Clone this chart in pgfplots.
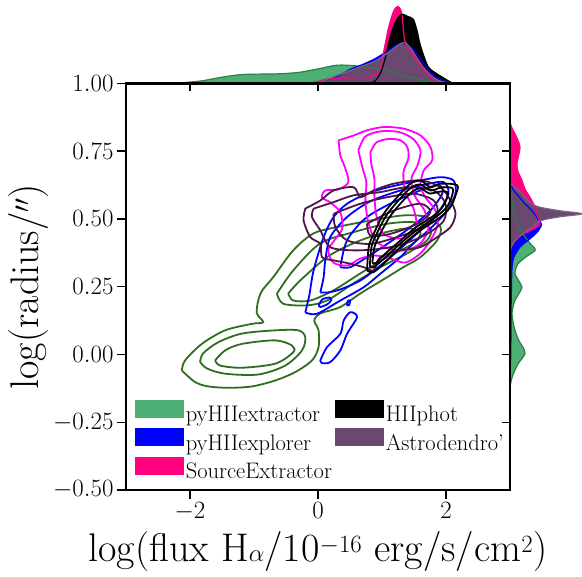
\documentclass[border=0pt]{standalone}
\usepackage{pgfplots}
\pgfplotsset{compat=1.18}
\definecolor{cgreenf}{RGB}{77,175,115}
\definecolor{cgreenm}{RGB}{40,130,70}
\definecolor{cgreenl}{RGB}{46,110,30}
\definecolor{cpink}{RGB}{255,0,127}
\definecolor{cmag}{RGB}{255,0,255}
\definecolor{cpurf}{RGB}{106,72,112}
\definecolor{cpurm}{RGB}{125,100,130}
\definecolor{cpurl}{RGB}{80,20,75}
\begin{document}
\begin{tikzpicture}
\useasboundingbox (0pt,0pt) rectangle (582pt,577pt);
% ---------------- top marginal ----------------
\begin{axis}[at={(126pt,493.6pt)}, anchor=south west, scale only axis,
  width=384pt, height=83.4pt, xmin=-3, xmax=3, ymin=0, ymax=83.4,
  axis lines=none, clip=false]
\addplot[fill=cgreenf, draw=none, smooth] coordinates {(-2.4,0) (-2.1,0.8) (-1.8,2.7) (-1.5,6.2) (-1.2,8.8) (-0.9,9.3) (-0.6,9.6) (-0.3,11) (0,14.5) (0.3,18.2) (0.6,17.5) (0.9,15) (1.1,12.5) (1.3,8.5) (1.6,3.5) (1.9,1) (2.3,0)};
\addplot[fill=blue, draw=none, smooth] coordinates {(-0.2,0) (0.0,1.5) (0.3,7) (0.5,14) (0.7,19) (0.9,25) (1.1,33) (1.25,39) (1.35,40) (1.5,33) (1.65,20) (1.8,8) (2.0,2) (2.2,0)};
\addplot[fill=cpink, draw=none, smooth] coordinates {(-0.1,0) (0.05,3) (0.2,5) (0.5,5.5) (0.8,6.5) (0.95,12) (1.02,30) (1.1,55) (1.18,72) (1.25,77) (1.31,70) (1.34,50) (1.37,40) (1.49,28) (1.6,17) (1.71,9) (1.87,2.7) (2.05,0)};
\addplot[fill=black, draw=none, smooth] coordinates {(0.82,0) (0.9,3) (0.98,11) (1.05,25) (1.12,45) (1.2,60) (1.3,69) (1.4,67) (1.49,64) (1.55,52) (1.6,38) (1.71,18) (1.8,12) (1.87,9) (2.0,4) (2.1,0)};
\addplot[fill=cpurf, draw=none, smooth] coordinates {(-0.1,0) (0.1,3) (0.3,8) (0.55,14) (0.9,22.5) (1.1,31) (1.25,38) (1.35,41) (1.45,35) (1.55,25) (1.65,16) (1.8,6) (1.95,1.5) (2.1,0)};
\addplot[draw=cgreenm, line width=1.2pt, smooth] coordinates {(-2.4,0) (-2.1,0.8) (-1.8,2.7) (-1.5,6.2) (-1.2,8.8) (-0.9,9.3) (-0.6,9.6) (-0.3,11) (0,14.5) (0.3,18.2) (0.6,17.5) (0.9,15) (1.1,12.5) (1.3,8.5) (1.6,3.5) (1.9,1) (2.3,0)};
\addplot[draw=blue, line width=1.2pt, smooth] coordinates {(-0.2,0) (0.0,1.5) (0.3,7) (0.5,14) (0.7,19) (0.9,25) (1.1,33) (1.25,39) (1.35,40) (1.5,33) (1.65,20) (1.8,8) (2.0,2) (2.2,0)};
\addplot[draw=cpink, line width=1.2pt, smooth] coordinates {(-0.1,0) (0.05,3) (0.2,5) (0.5,5.5) (0.8,6.5) (0.95,12) (1.02,30) (1.1,55) (1.18,72) (1.25,77) (1.31,70) (1.34,50) (1.37,40) (1.49,28) (1.6,17) (1.71,9) (1.87,2.7) (2.05,0)};
\addplot[draw=black, line width=1.2pt, smooth] coordinates {(0.82,0) (0.9,3) (0.98,11) (1.05,25) (1.12,45) (1.2,60) (1.3,69) (1.4,67) (1.49,64) (1.55,52) (1.6,38) (1.71,18) (1.8,12) (1.87,9) (2.0,4) (2.1,0)};
\addplot[draw=cpurm, line width=1.2pt, smooth] coordinates {(-0.1,0) (0.1,3) (0.3,8) (0.55,14) (0.9,22.5) (1.1,31) (1.25,38) (1.35,41) (1.45,35) (1.55,25) (1.65,16) (1.8,6) (1.95,1.5) (2.1,0)};
\end{axis}
% ---------------- right marginal ----------------
\begin{axis}[at={(510pt,87pt)}, anchor=south west, scale only axis,
  width=72pt, height=406.6pt, xmin=0, xmax=72, ymin=-0.5, ymax=1,
  axis lines=none, clip=false]
\addplot[fill=cgreenf, draw=none, smooth] coordinates {(0,-0.12) (1,-0.1) (3,-0.075) (8,-0.035) (13,-0.01) (15,0.005) (13,0.027) (9,0.05) (5,0.089) (3,0.12) (2,0.15) (3,0.175) (5,0.2) (9,0.225) (12,0.248) (9,0.27) (5,0.298) (6,0.32) (8,0.335) (16,0.36) (24,0.38) (25,0.39) (20,0.41) (14,0.44) (9,0.47) (5,0.51) (2,0.56) (0,0.62)};
\addplot[fill=blue, draw=none, smooth] coordinates {(0,-0.05) (0.8,0.0) (1,0.15) (1.5,0.25) (2,0.32) (4,0.36) (10,0.396) (16,0.415) (22,0.433) (28,0.455) (31.5,0.48) (28,0.5) (22,0.53) (14,0.56) (7,0.59) (3,0.61) (0,0.64)};
\addplot[fill=cpink, draw=none, smooth] coordinates {(0,0.38) (3,0.408) (8,0.433) (18,0.452) (27,0.47) (30,0.482) (28,0.507) (25,0.544) (20,0.58) (15,0.61) (12,0.642) (8,0.675) (7,0.704) (9,0.74) (10,0.765) (8,0.79) (5,0.814) (2,0.835) (0,0.855)};
\addplot[fill=black, draw=none, smooth] coordinates {(0,0.41) (4,0.44) (10,0.47) (16,0.5) (18,0.515) (14,0.54) (8,0.57) (3,0.6) (0,0.62)};
\addplot[fill=cpurf, draw=none, smooth] coordinates {(0,0.39) (3,0.41) (8,0.43) (13,0.446) (18,0.46) (23,0.47) (28,0.487) (34,0.497) (50,0.508) (72,0.519) (50,0.53) (30,0.543) (22,0.555) (17,0.57) (15,0.58) (10,0.6) (5,0.615) (2,0.625) (0,0.635)};
\addplot[draw=cgreenm, line width=1.2pt, smooth] coordinates {(0,-0.12) (1,-0.1) (3,-0.075) (8,-0.035) (13,-0.01) (15,0.005) (13,0.027) (9,0.05) (5,0.089) (3,0.12) (2,0.15) (3,0.175) (5,0.2) (9,0.225) (12,0.248) (9,0.27) (5,0.298) (6,0.32) (8,0.335) (16,0.36) (24,0.38) (25,0.39) (20,0.41) (14,0.44) (9,0.47) (5,0.51) (2,0.56) (0,0.62)};
\addplot[draw=blue, line width=1.2pt, smooth] coordinates {(0,-0.05) (0.8,0.0) (1,0.15) (1.5,0.25) (2,0.32) (4,0.36) (10,0.396) (16,0.415) (22,0.433) (28,0.455) (31.5,0.48) (28,0.5) (22,0.53) (14,0.56) (7,0.59) (3,0.61) (0,0.64)};
\addplot[draw=cpink, line width=1.2pt, smooth] coordinates {(0,0.38) (3,0.408) (8,0.433) (18,0.452) (27,0.47) (30,0.482) (28,0.507) (25,0.544) (20,0.58) (15,0.61) (12,0.642) (8,0.675) (7,0.704) (9,0.74) (10,0.765) (8,0.79) (5,0.814) (2,0.835) (0,0.855)};
\addplot[draw=cpurm, line width=1.2pt, smooth] coordinates {(0,0.39) (3,0.41) (8,0.43) (13,0.446) (18,0.46) (23,0.47) (28,0.487) (34,0.497) (50,0.508) (72,0.519) (50,0.53) (30,0.543) (22,0.555) (17,0.57) (15,0.58) (10,0.6) (5,0.615) (2,0.625) (0,0.635)};
\end{axis}
% ---------------- main joint axis ----------------
\begin{axis}[at={(126pt,87pt)}, anchor=south west, scale only axis,
  width=384pt, height=406.6pt, xmin=-3, xmax=3, ymin=-0.5, ymax=1,
  xtick={-2,0,2}, ytick={-0.5,-0.25,0,0.25,0.5,0.75,1},
  tick align=outside, xtick pos=left, ytick pos=left,
  major tick length=9pt, tick style={line width=1.4pt, black},
  axis line style={line width=2.4pt},
  yticklabel style={/pgf/number format/fixed, /pgf/number format/fixed zerofill, /pgf/number format/precision=2},
  tick label style={font=\fontsize{24.5}{28}\selectfont},
  label style={font=\fontsize{40}{46}\selectfont},
  xlabel={log(flux H$\alpha$/10$^{-16}$ erg/s/cm$^2$)},
  ylabel={log(radius/$''$)},
  xlabel style={at={(axis description cs:0.5,0)}, anchor=base, yshift=-72pt},
  ylabel style={at={(axis description cs:-0.228,0.5)}, anchor=base},
  legend style={at={(0.015,0.227)}, anchor=north west, draw=none, fill=none,
    font=\fontsize{22.5}{26}\selectfont, row sep=3pt},
  legend columns=2, legend cell align=left,
  /tikz/every even column/.append style={column sep=1pt},
  every axis plot/.append style={line width=1.8pt, smooth}]
% green contours
\addplot[cgreenl, forget plot] coordinates {(-2.128,-0.059) (-2.077,-0.022) (-1.815,0.039) (-1.451,0.089) (-1.033,0.113) (-0.856,0.119) (-0.955,0.151) (-0.934,0.199) (-0.872,0.236) (-0.700,0.285) (-0.387,0.384) (-0.074,0.446) (0.297,0.470) (0.818,0.494) (1.335,0.513) (1.706,0.507) (1.914,0.470) (1.862,0.421) (1.601,0.359) (1.335,0.322) (1.080,0.285) (0.662,0.225) (0.349,0.175) (0.036,0.151) (-0.058,0.125) (0.009,0.089) (0.009,0.027) (-0.094,-0.022) (-0.355,-0.065) (-0.668,-0.096) (-1.033,-0.118) (-1.399,-0.123) (-1.712,-0.118) (-1.920,-0.102) (-2.128,-0.059)};
\addplot[cgreenl, forget plot] coordinates {(-1.842,-0.028) (-1.795,0.004) (-1.560,0.045) (-1.189,0.077) (-0.668,0.089) (-0.308,0.089) (-0.199,0.064) (-0.250,0.015) (-0.512,-0.041) (-0.934,-0.074) (-1.451,-0.071) (-1.732,-0.052) (-1.842,-0.028)};
\addplot[cgreenl, forget plot] coordinates {(-1.607,-0.022) (-1.451,0.015) (-1.189,0.039) (-0.668,0.052) (-0.407,0.033) (-0.387,0.008) (-0.668,-0.034) (-1.189,-0.049) (-1.529,-0.041) (-1.607,-0.022)};
\addplot[cgreenl, forget plot] coordinates {(-0.642,0.224) (-0.387,0.310) (0.036,0.410) (0.552,0.451) (1.080,0.482) (1.491,0.488) (1.757,0.465) (1.706,0.421) (1.393,0.373) (0.975,0.322) (0.552,0.262) (0.141,0.199) (-0.172,0.181) (-0.543,0.187) (-0.642,0.224)};
\addplot[cgreenl, forget plot] coordinates {(-0.465,0.225) (-0.277,0.273) (0.141,0.359) (0.552,0.410) (0.975,0.446) (1.393,0.465) (1.601,0.451) (1.491,0.410) (1.080,0.359) (0.662,0.299) (0.239,0.236) (-0.121,0.199) (-0.387,0.199) (-0.465,0.225)};
% blue contours
\addplot[blue, forget plot] coordinates {(-0.199,0.155) (-0.136,0.218) (-0.069,0.310) (0.088,0.433) (0.244,0.507) (0.454,0.556) (0.767,0.593) (1.080,0.616) (1.601,0.642) (1.914,0.654) (2.117,0.642) (2.149,0.594) (2.019,0.531) (1.757,0.465) (1.491,0.410) (1.288,0.359) (0.975,0.298) (0.714,0.248) (0.349,0.199) (-0.016,0.150) (-0.199,0.155)};
\addplot[blue, forget plot] coordinates {(0.036,-0.022) (0.141,0.027) (0.349,0.076) (0.401,0.125) (0.505,0.156) (0.610,0.138) (0.454,0.076) (0.349,0.015) (0.192,-0.028) (0.063,-0.032) (0.036,-0.022)};
\addplot[blue, forget plot] coordinates {(0.013,0.181) (0.067,0.203) (0.177,0.210) (0.208,0.201) (0.146,0.185) (0.036,0.175) (0.013,0.181)};
\addplot[blue, forget plot] coordinates {(0.451,0.181) (0.466,0.197) (0.498,0.199) (0.490,0.183) (0.451,0.181)};
\addplot[blue, forget plot] coordinates {(0.036,0.229) (0.088,0.285) (0.114,0.347) (0.192,0.433) (0.454,0.507) (0.818,0.565) (1.288,0.605) (1.679,0.627) (1.961,0.636) (2.039,0.593) (1.862,0.519) (1.601,0.458) (1.288,0.391) (0.975,0.328) (0.662,0.273) (0.349,0.240) (0.161,0.229) (0.036,0.229)};
\addplot[blue, forget plot] coordinates {(0.349,0.322) (0.454,0.421) (0.767,0.507) (1.340,0.580) (1.862,0.624) (1.941,0.593) (1.706,0.519) (1.236,0.433) (0.767,0.359) (0.505,0.322) (0.349,0.322)};
% magenta contours
\addplot[cmag, forget plot] coordinates {(0.322,0.790) (0.557,0.808) (0.767,0.827) (1.027,0.839) (1.340,0.833) (1.601,0.808) (1.757,0.765) (1.784,0.716) (1.653,0.679) (1.601,0.624) (1.679,0.579) (1.836,0.531) (1.867,0.476) (1.757,0.421) (1.601,0.373) (1.366,0.339) (1.131,0.354) (0.897,0.365) (0.662,0.354) (0.459,0.328) (0.239,0.339) (0.161,0.384) (0.255,0.421) (0.380,0.465) (0.349,0.524) (0.192,0.561) (0.063,0.579) (0.114,0.605) (0.318,0.609) (0.474,0.635) (0.427,0.686) (0.349,0.734) (0.322,0.790)};
\addplot[cmag, forget plot] coordinates {(0.631,0.753) (0.740,0.804) (0.975,0.823) (1.257,0.821) (1.476,0.797) (1.601,0.753) (1.554,0.697) (1.460,0.649) (1.507,0.587) (1.664,0.531) (1.726,0.465) (1.601,0.410) (1.366,0.384) (1.100,0.391) (0.897,0.421) (0.787,0.487) (0.740,0.568) (0.756,0.635) (0.693,0.690) (0.631,0.753)};
\addplot[cmag, forget plot] coordinates {(0.818,0.745) (0.912,0.782) (1.100,0.795) (1.288,0.790) (1.397,0.764) (1.413,0.723) (1.335,0.672) (1.366,0.598) (1.491,0.539) (1.538,0.476) (1.413,0.435) (1.210,0.428) (1.006,0.450) (0.912,0.513) (0.881,0.587) (0.881,0.649) (0.834,0.701) (0.818,0.745)};
% purple contours
\addplot[cpurl, forget plot] coordinates {(-0.199,0.538) (0.036,0.568) (0.244,0.605) (0.557,0.617) (0.662,0.580) (0.870,0.605) (1.183,0.630) (1.601,0.642) (1.914,0.617) (2.070,0.568) (2.149,0.519) (2.070,0.470) (1.862,0.433) (1.601,0.396) (1.288,0.384) (0.975,0.359) (0.870,0.310) (0.714,0.322) (0.505,0.335) (0.244,0.347) (0.063,0.359) (0.036,0.408) (-0.121,0.433) (-0.225,0.494) (-0.199,0.538)};
\addplot[cpurl, forget plot] coordinates {(-0.069,0.538) (0.244,0.562) (0.557,0.587) (0.975,0.599) (1.393,0.617) (1.809,0.605) (1.992,0.556) (1.966,0.494) (1.706,0.445) (1.340,0.408) (0.975,0.390) (0.557,0.384) (0.192,0.396) (0.036,0.458) (-0.094,0.507) (-0.069,0.538)};
\addplot[cpurl, forget plot] coordinates {(0.244,0.519) (0.662,0.556) (1.080,0.580) (1.496,0.593) (1.809,0.568) (1.862,0.519) (1.653,0.470) (1.236,0.433) (0.818,0.408) (0.454,0.421) (0.271,0.470) (0.244,0.519)};
\addplot[cpurl, forget plot] coordinates {(0.767,0.482) (1.183,0.531) (1.601,0.556) (1.757,0.525) (1.549,0.482) (1.131,0.445) (0.818,0.439) (0.767,0.482)};
% black contours
\addplot[black, forget plot] coordinates {(0.767,0.310) (0.792,0.396) (0.870,0.445) (1.027,0.519) (1.236,0.580) (1.444,0.630) (1.601,0.642) (1.757,0.617) (1.914,0.630) (2.175,0.624) (2.149,0.587) (2.070,0.544) (1.914,0.507) (1.601,0.458) (1.340,0.408) (1.080,0.347) (0.870,0.304) (0.767,0.310)};
\addplot[black, forget plot] coordinates {(0.811,0.325) (0.834,0.395) (0.912,0.443) (1.069,0.513) (1.272,0.572) (1.460,0.616) (1.601,0.627) (1.757,0.605) (1.930,0.616) (2.102,0.613) (2.086,0.579) (2.008,0.542) (1.851,0.509) (1.554,0.461) (1.304,0.413) (1.053,0.358) (0.865,0.321) (0.811,0.325)};
\addplot[black, forget plot] coordinates {(0.850,0.339) (0.881,0.395) (0.959,0.439) (1.116,0.506) (1.304,0.561) (1.476,0.601) (1.601,0.613) (1.742,0.594) (1.914,0.601) (2.023,0.598) (2.008,0.572) (1.930,0.539) (1.789,0.509) (1.507,0.465) (1.272,0.417) (1.038,0.369) (0.897,0.336) (0.850,0.339)};
% legend
\addlegendimage{legend image code/.code={\fill[cgreenf] (0pt,-2pt) rectangle (47pt,14pt);}}
\addlegendentry{pyHIIextractor}
\addlegendimage{legend image code/.code={\fill[black] (0pt,-2pt) rectangle (47pt,14pt);}}
\addlegendentry{HIIphot}
\addlegendimage{legend image code/.code={\fill[blue] (0pt,-2pt) rectangle (47pt,14pt);}}
\addlegendentry{pyHIIexplorer}
\addlegendimage{legend image code/.code={\fill[cpurf] (0pt,-2pt) rectangle (47pt,14pt);}}
\addlegendentry{Astrodendro'}
\addlegendimage{legend image code/.code={\fill[cpink] (0pt,-2pt) rectangle (47pt,14pt);}}
\addlegendentry{SourceExtractor}
\end{axis}
% overlay: inward ticks on top and right
\begin{axis}[at={(126pt,87pt)}, anchor=south west, scale only axis,
  width=384pt, height=406.6pt, xmin=-3, xmax=3, ymin=-0.5, ymax=1,
  xtick={-2,0,2}, ytick={-0.5,-0.25,0,0.25,0.5,0.75,1},
  tick align=inside, xtick pos=right, ytick pos=right,
  xticklabels={}, yticklabels={},
  major tick length=8pt, tick style={line width=1.4pt, black},
  axis line style={line width=2.4pt}]
\end{axis}
\end{tikzpicture}
\end{document}
